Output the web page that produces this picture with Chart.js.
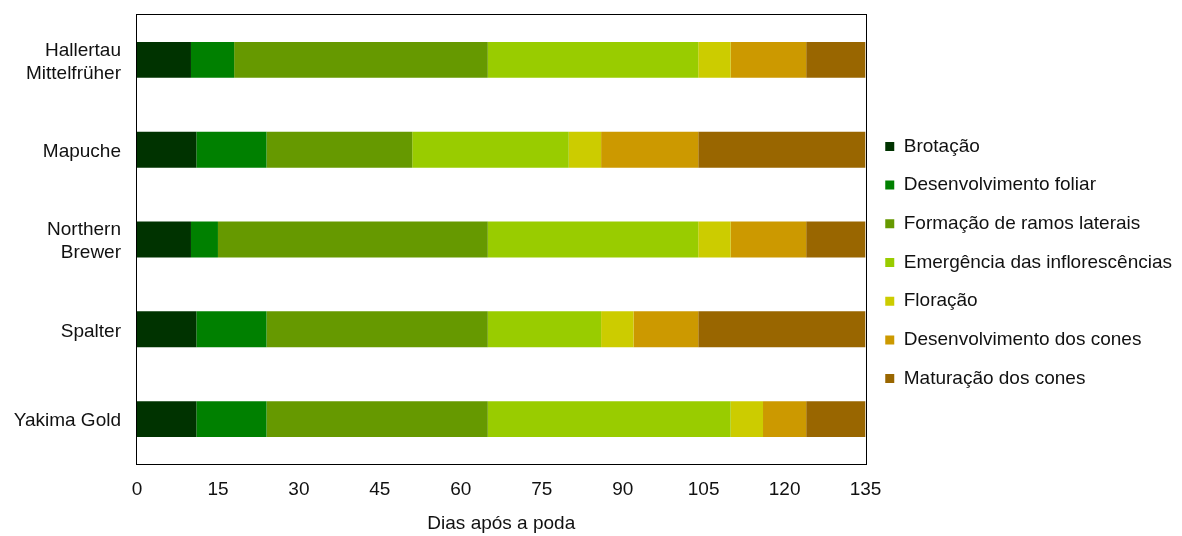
<!DOCTYPE html>
<html>
<head>
<meta charset="utf-8">
<script src="https://cdn.jsdelivr.net/npm/chart.js@4/dist/chart.umd.min.js"></script>
<style>
  html, body { margin: 0; padding: 0; background: #ffffff; }
  #wrap { width: 1182px; height: 536px; position: relative; }
</style>
</head>
<body>
<div id="wrap"><canvas id="c" width="1182" height="536"></canvas></div>
<script>
// Cultivars (y categories)
const categories = [["Hallertau", "Mittelfrüher"], "Mapuche", ["Northern", "Brewer"], "Spalter", "Yakima Gold"];
// Phenological stages (series)
const stageNames = [
  "Brotação",
  "Desenvolvimento foliar",
  "Formação de ramos laterais",
  "Emergência das inflorescências",
  "Floração",
  "Desenvolvimento dos cones",
  "Maturação dos cones"
];
// Duration of each stage (days), per cultivar in category order
const brotacao      = [10, 11, 10, 11, 11];
const desenvFoliar  = [ 8, 13,  5, 13, 13];
const ramosLaterais = [47, 27, 50, 41, 41];
const emergencia    = [39, 29, 39, 21, 45];
const floracao      = [ 6,  6,  6,  6,  6];
const desenvCones   = [14, 18, 14, 12,  8];
const maturacao     = [11, 31, 11, 31, 11];
// X axis ticks
const xTicks = [0, 15, 30, 45, 60, 75, 90, 105, 120, 135];
const xTitle = "Dias após a poda";

const seriesValues = [brotacao, desenvFoliar, ramosLaterais, emergencia, floracao, desenvCones, maturacao];
const colors = ["#003300", "#008000", "#669900", "#99CC00", "#CCCC00", "#CC9900", "#996600"];

const FONT = '"Liberation Sans", Arial, sans-serif';
const FS = 19;
const LEFT_PAD = -100;   // relaxes the legend width cap; y axis width compensates
const BOTTOM_PAD = 26;   // legend is centred between top and bottom padding

const framePlugin = {
  id: 'frame',
  afterDatasetsDraw(chart) {
    const a = chart.chartArea;
    const ctx = chart.ctx;
    ctx.save();
    ctx.strokeStyle = '#000000';
    ctx.lineWidth = 1;
    ctx.strokeRect(Math.round(a.left) - 0.5, Math.round(a.top) - 0.5, Math.round(a.right - a.left) + 1, Math.round(a.bottom - a.top) + 1);
    ctx.restore();
  }
};

new Chart(document.getElementById('c'), {
  type: 'bar',
  data: {
    labels: categories,
    datasets: stageNames.map((name, i) => ({
      label: name,
      data: seriesValues[i],
      backgroundColor: colors[i],
      borderWidth: 0,
      categoryPercentage: 1.0,
      barPercentage: 0.4
    }))
  },
  options: {
    indexAxis: 'y',
    responsive: false,
    animation: false,
    layout: { padding: { top: 15, left: LEFT_PAD, right: 0, bottom: BOTTOM_PAD } },
    plugins: {
      tooltip: { enabled: false },
      legend: {
        position: 'right',
        labels: {
          boxWidth: 9,
          boxHeight: 9,
          padding: 19.7,
          color: '#111111',
          font: { family: FONT, size: FS }
        }
      }
    },
    scales: {
      x: {
        type: 'linear',
        stacked: true,
        min: 0,
        max: 135,
        afterBuildTicks(scale) { scale.ticks = xTicks.map(v => ({ value: v })); },
        afterFit(scale) { scale.height = 72 - BOTTOM_PAD; },
        grid: { display: false, drawTicks: false },
        border: { display: false },
        ticks: {
          padding: 14,
          color: '#111111',
          font: { family: FONT, size: FS },
          maxRotation: 0,
          autoSkip: false
        },
        title: {
          display: true,
          text: xTitle,
          color: '#111111',
          font: { family: FONT, size: FS },
          padding: { top: 0, bottom: -BOTTOM_PAD + 1 }
        }
      },
      y: {
        stacked: true,
        afterFit(scale) {
          scale.width = 137 - LEFT_PAD;
          scale.paddingTop = 0;
          scale.paddingBottom = 0;
        },
        grid: { display: false, drawTicks: false },
        border: { display: false },
        ticks: {
          padding: 16,
          labelOffset: 2,
          color: '#111111',
          crossAlign: 'near',
          font: { family: FONT, size: FS }
        }
      }
    }
  },
  plugins: [framePlugin]
});
</script>
</body>
</html>
